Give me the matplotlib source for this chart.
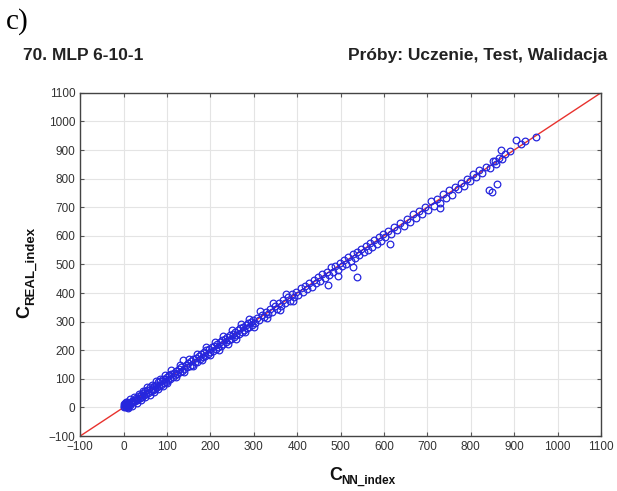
import matplotlib.pyplot as plt

# C_NN_index (x) and C_REAL_index (y)
nn_index = [0, 1, 2, 3, 4, 5, 6, 7, 8, 9, 10, 12, 14, 16, 18, 20, 22, 24, 26, 28,
            30, 32, 35, 37, 40, 42, 45, 47, 50, 52, 55, 57, 60, 62, 65, 67, 70, 72, 75, 77,
            80, 82, 85, 87, 90, 92, 95, 97, 100,
            102, 105, 108, 110, 113, 116, 118, 121, 124, 127, 130, 132, 135, 138, 140, 143,
            146, 149, 152, 155, 158, 161, 164, 167, 170, 173, 176, 179, 182, 185, 188, 191,
            194, 197, 200, 203, 206, 209, 212, 215, 218, 221, 224, 227, 230, 233, 236, 239,
            242, 245, 248, 251, 254, 257, 260, 263, 266, 269, 272, 275, 278, 281, 284, 287,
            290, 293, 296, 299,
            303, 308, 313, 318, 323, 328, 333, 338, 343, 348, 353, 358, 363, 368, 373, 378,
            383, 388, 393, 398, 403, 408, 413, 418, 423, 428, 433, 438, 443, 448, 453, 458,
            463, 468, 470, 473, 478, 483, 488, 493, 495, 498, 503, 508, 513, 518, 523, 528,
            528, 533, 537, 538, 543, 548, 553, 558, 563, 568, 573, 578, 583, 588, 593, 598,
            603, 610, 615, 617, 624, 631, 638, 645, 652, 659, 666, 673, 680, 687, 694, 701,
            708, 715, 722, 728, 729, 736, 743, 750, 757, 764, 771, 778, 785, 792, 799, 806,
            813, 820, 827, 834, 841, 845, 848, 852, 855, 859, 860, 866, 870, 873, 880, 890,
            905, 915, 925, 950,
            5, 10, 15, 20, 25, 30, 35, 40, 45, 50, 55, 60, 65, 70, 75, 80, 85, 90, 95, 100,
            110, 120, 130, 140, 150, 160, 170, 180, 190, 200, 210, 220, 230, 240, 250, 260,
            270, 280, 290, 300, 315, 330, 345, 360, 375, 390]
real_index = [4, 12, 0, 8, 15, 3, 10, 18, 6, 12, 2, 16, 9, 20, 14, 24, 18, 27, 21, 34,
              26, 30, 40, 33, 45, 36, 50, 42, 56, 47, 62, 52, 70, 58, 66, 60, 76, 65, 80, 70,
              88, 76, 92, 80, 98, 86, 100, 90, 106,
              95, 112, 100, 118, 108, 122, 112, 128, 118, 134, 124, 140, 128, 165, 134, 150,
              140, 156, 145, 162, 150, 168, 158, 174, 160, 180, 170, 186, 176, 192, 180, 200,
              186, 204, 194, 210, 198, 216, 205, 222, 210, 228, 216, 234, 222, 240, 228, 246,
              236, 252, 240, 258, 246, 264, 252, 270, 258, 276, 264, 282, 270, 288, 276, 294,
              282, 300, 288, 306,
              296, 314, 305, 322, 315, 335, 325, 345, 335, 355, 343, 365, 355, 375, 365, 385,
              372, 395, 385, 405, 393, 416, 404, 425, 415, 436, 422, 445, 434, 455, 443, 468,
              452, 475, 427, 462, 490, 472, 494, 482, 461, 505, 493, 516, 502, 525, 512, 535,
              490, 522, 455, 545, 532, 555, 543, 565, 552, 575, 562, 585, 572, 595, 583, 605,
              595, 618, 573, 608, 632, 620, 646, 635, 660, 648, 675, 662, 688, 676, 702, 690,
              720, 704, 730, 696, 716, 745, 732, 760, 744, 772, 762, 785, 775, 800, 790, 815,
              804, 830, 818, 842, 760, 838, 752, 860, 862, 850, 780, 872, 900, 868, 885, 895,
              935, 920, 930, 945,
              20, -2, 28, 5, 35, 15, 48, 25, 58, 35, 70, 45, 80, 55, 92, 65, 100, 75, 112, 85,
              130, 105, 148, 125, 168, 145, 188, 165, 210, 182, 230, 200, 250, 222, 270, 240,
              292, 262, 310, 282, 338, 312, 365, 340, 398, 372]
ticks = list(range(-100, 1101, 100))

plt.rcParams['font.family'] = ['Liberation Sans', 'DejaVu Sans']

W, H = 617, 491
fig = plt.figure(figsize=(W / 100, H / 100), dpi=100)
ax = fig.add_axes([0.130, 0.112, 0.844, 0.699])


def px(x, y):
    # pixel position (from top-left) -> figure fraction
    return x / W, 1 - y / H


ax.plot([-100, 1100], [-100, 1100], color='#e8322e', lw=1.0, zorder=2)
ax.plot(nn_index, real_index, 'o', mfc='none', mec='#2626dd', ms=4.8, mew=0.9, zorder=3)

ax.set_xlim(-100, 1100)
ax.set_ylim(-100, 1100)
ax.set_xticks(ticks)
ax.set_yticks(ticks)
ax.grid(True, color='#e4e4e4', lw=0.8)
ax.set_axisbelow(True)
ax.tick_params(direction='in', length=3, labelsize=8.5, labelcolor='#333333',
               color='#555555', top=True, right=True)
for s in ax.spines.values():
    s.set_color('#444444')
    s.set_linewidth(1.0)

# axis labels: big C with a smaller bold subscript
fig.text(*px(329, 480), 'C', fontsize=13, fontweight='bold', color='#111111')
fig.text(*px(341, 484), 'NN_index', fontsize=8.5, fontweight='bold', color='#111111')
fig.text(*px(29, 318), 'C', fontsize=13, fontweight='bold', color='#111111',
         rotation=90, rotation_mode='anchor', ha='left', va='baseline')
fig.text(*px(34, 305), 'REAL_index', fontsize=9.5, fontweight='bold', color='#111111',
         rotation=90, rotation_mode='anchor', ha='left', va='baseline')

fig.text(*px(6, 29), 'c)', family='Liberation Serif', fontsize=21)
fig.text(*px(23, 60), '70. MLP 6-10-1', fontsize=12.5, fontweight='bold', color='#222222')
fig.text(*px(607, 60), 'Próby: Uczenie, Test, Walidacja', fontsize=12.5,
         fontweight='bold', color='#222222', ha='right')

fig.savefig('out.png', dpi=100)
